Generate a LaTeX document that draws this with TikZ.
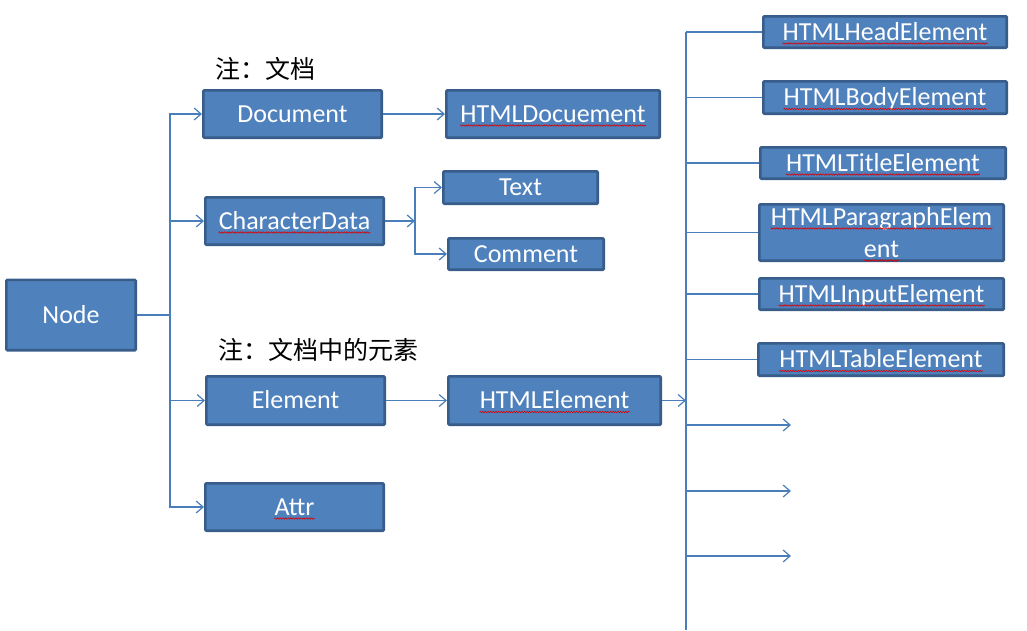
\documentclass[tikz,border=0pt]{standalone}
\usepackage{fontspec}
\usetikzlibrary{arrows.meta,decorations.pathmorphing}
\newfontfamily\calibri{Carlito}
\newfontfamily\cjk{Noto Sans CJK SC}
\definecolor{boxfill}{RGB}{79,129,189}
\definecolor{boxline}{RGB}{56,93,138}
\definecolor{wire}{RGB}{74,126,187}
\tikzset{
  lettering/.style={text=white,font=\calibri\fontsize{26}{30}\selectfont,
    text height=16pt,text depth=0pt},
  cls/.style 2 args={draw=boxline,fill=boxfill,line width=2.6pt,
    lettering,inner sep=0pt,rounded corners=1pt,
    minimum width=#1-2.6,minimum height=#2-2.6},
  word/.style={lettering,inner sep=0pt},
  squig/.style={draw=red!85!black,line width=0.6pt,decorate,
    decoration={snake,amplitude=0.7pt,segment length=2.6pt}}
}
% a word with the red spell-check wave under it
\newcommand\spelled[2]{%
  \node[word] (#1-w) at (#1) {#2};
  \draw[squig] ([yshift=-3.5pt]#1-w.base west) -- ([yshift=-3.5pt]#1-w.base east);}

\begin{document}
\begin{tikzpicture}[x=1pt,y=-1pt,>={Straight Barb[length=7pt,width=12pt]},
                    wire/.style={draw=wire,line width=1.2pt},
                    note/.style={anchor=west,inner sep=0pt,
                      font=\cjk\fontsize{25}{30}\selectfont}]
  \useasboundingbox (0,0) rectangle (1027,630);
  % left column
  \node[cls={132}{73}] (node) at (71,315) {Node};
  \node[cls={181}{50}] (doc) at (292.5,114) {Document};
  \node[cls={181}{50}] (chardata) at (294.5,221) {};
  \spelled{chardata}{CharacterData}
  \node[cls={181}{51}] (element) at (295.5,400.5) {Element};
  \node[cls={181}{50}] (attr) at (294.5,507) {};
  \spelled{attr}{Attr}
  \node[note] (docnote) at (215,69) {注：文档};
  \node[note] (elnote) at (218,350) {注：文档中的元素};
  % middle column
  \node[cls={216}{50}] (htmldoc) at (553,114) {};
  \spelled{htmldoc}{HTMLDocuement}
  \node[cls={157}{35}] (text) at (520.5,187.5) {Text};
  \node[cls={158}{34}] (comment) at (526,254) {Comment};
  \node[cls={215}{51}] (htmlel) at (554.5,400.5) {};
  \spelled{htmlel}{HTMLElement}
  % right column
  \node[cls={246}{34}] (head) at (885,32) {};
  \spelled{head}{HTMLHeadElement}
  \node[cls={246}{35}] (body) at (885,97.5) {};
  \spelled{body}{HTMLBodyElement}
  \node[cls={248}{34}] (title) at (883,163) {};
  \spelled{title}{HTMLTitleElement}
  \node[cls={247}{59}] (para) at (881.5,232.5) {};
  \coordinate (para1) at (881.5,217);
  \coordinate (para2) at (881.5,249);
  \spelled{para1}{HTMLParagraphElem}
  \spelled{para2}{ent}
  \node[cls={247}{34}] (input) at (881.5,294) {};
  \spelled{input}{HTMLInputElement}
  \node[cls={248}{35}] (table) at (881,359.5) {};
  \spelled{table}{HTMLTableElement}

  % trunk from Node
  \draw[wire] (node.east) -- ++(33,0) coordinate (trunk);
  \foreach \n in {doc,chardata,element,attr}
    \draw[wire,->] (trunk) |- (\n.west);
  \draw[wire,->] (doc.east) -- (htmldoc.west);
  \draw[wire,->] (element.east) -- (htmlel.west);
  % CharacterData fork
  \draw[wire,->] (chardata.east) -- ++(30,0) coordinate (cfork);
  \draw[wire,->] (cfork) |- (text.west);
  \draw[wire,->] (cfork) |- (comment.west);
  % HTMLElement bus
  \coordinate (bus) at (686,32);
  \coordinate (busend) at (686,630);
  \draw[wire] (bus) -- (busend);
  \draw[wire,->] (htmlel.east) -- (bus |- htmlel.east);
  \foreach \n in {head,body,title,para,input,table}
    \draw[wire] (bus |- \n.west) -- (\n.west);
  \foreach \y [count=\i] in {425,491,556} {
    \coordinate (stub\i) at (791,\y);
    \draw[wire,->] (bus |- stub\i) -- (stub\i);
  }
\end{tikzpicture}
\end{document}
